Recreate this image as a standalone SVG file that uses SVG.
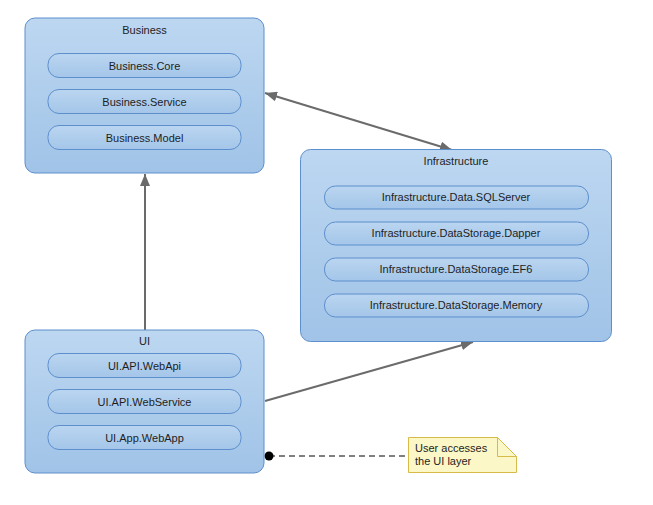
<svg xmlns="http://www.w3.org/2000/svg" width="653" height="505" viewBox="0 0 653 505">
<defs>
<linearGradient id="gBox" x1="0" y1="0" x2="0" y2="1">
<stop offset="0" stop-color="#bdd7f1"/>
<stop offset="1" stop-color="#a0c3e7"/>
</linearGradient>
<linearGradient id="gPill" x1="0" y1="0" x2="0" y2="1">
<stop offset="0" stop-color="#bad5f0"/>
<stop offset="1" stop-color="#a4c6e9"/>
</linearGradient>
<marker id="arr" viewBox="0 0 12 10" refX="12" refY="5" markerWidth="12" markerHeight="10" markerUnits="userSpaceOnUse" orient="auto-start-reverse">
<path d="M0,0 L12,5 L0,10 Z" fill="#6b6b6b"/>
</marker>
</defs>
<style>
.box{fill:url(#gBox);stroke:#5c8fcc;stroke-width:1}
.pill{fill:url(#gPill);stroke:#5c8fcc;stroke-width:1}
text{font-family:"Liberation Sans",Arial,sans-serif;font-size:11px;fill:#1e1e1e;text-anchor:middle}
.conn{stroke:#6b6b6b;stroke-width:2;fill:none}
</style>
<rect width="653" height="505" fill="#ffffff"/>
<g id="connectors">
<line class="conn" x1="145" y1="330" x2="145" y2="174" marker-end="url(#arr)"/>
<line class="conn" x1="265" y1="93" x2="452" y2="150" marker-start="url(#arr)" marker-end="url(#arr)"/>
<line class="conn" x1="265" y1="401" x2="473" y2="342" marker-end="url(#arr)"/>
<line x1="269" y1="456" x2="408" y2="456" stroke="#000" stroke-width="1" stroke-dasharray="6,4"/>
<circle cx="269" cy="456" r="4.5" fill="#000"/>
</g>
<g id="business">
<rect class="box" x="25" y="18" width="239" height="155" rx="10"/>
<text x="144.5" y="34">Business</text>
<g id="business-core"><rect class="pill" x="48" y="53.5" width="193" height="24" rx="11"/><text x="144.5" y="69.5">Business.Core</text></g>
<g id="business-service"><rect class="pill" x="48" y="89.5" width="193" height="24" rx="11"/><text x="144.5" y="105.5">Business.Service</text></g>
<g id="business-model"><rect class="pill" x="48" y="125.5" width="193" height="24" rx="11"/><text x="144.5" y="141.5">Business.Model</text></g>
</g>
<g id="infrastructure">
<rect class="box" x="300.5" y="149.5" width="311" height="192" rx="10"/>
<text x="456" y="165">Infrastructure</text>
<g id="infra-sqlserver"><rect class="pill" x="324.5" y="186" width="264" height="23" rx="11"/><text x="456" y="201">Infrastructure.Data.SQLServer</text></g>
<g id="infra-dapper"><rect class="pill" x="324.5" y="222" width="264" height="23" rx="11"/><text x="456" y="237">Infrastructure.DataStorage.Dapper</text></g>
<g id="infra-ef6"><rect class="pill" x="324.5" y="258" width="264" height="23" rx="11"/><text x="456" y="273">Infrastructure.DataStorage.EF6</text></g>
<g id="infra-memory"><rect class="pill" x="324.5" y="294" width="264" height="23" rx="11"/><text x="456" y="309">Infrastructure.DataStorage.Memory</text></g>
</g>
<g id="ui">
<rect class="box" x="25" y="330" width="239" height="143" rx="10"/>
<text x="144.5" y="345">UI</text>
<g id="ui-webapi"><rect class="pill" x="48" y="353.5" width="193" height="24" rx="11"/><text x="144.5" y="369.5">UI.API.WebApi</text></g>
<g id="ui-webservice"><rect class="pill" x="48" y="389.5" width="193" height="24" rx="11"/><text x="144.5" y="405.5">UI.API.WebService</text></g>
<g id="ui-webapp"><rect class="pill" x="48" y="425.5" width="193" height="24" rx="11"/><text x="144.5" y="441.5">UI.App.WebApp</text></g>
</g>
<g id="note">
<path d="M408.5,437.5 H497.5 L516.5,456.5 V472.5 H408.5 Z" fill="#fcf7c6" stroke="#d6bb48" stroke-width="1"/>
<path d="M497.5,437.5 V456.5 H516.5" fill="none" stroke="#d6bb48" stroke-width="1"/>
<text x="415" y="452" style="text-anchor:start">User accesses</text>
<text x="415" y="465" style="text-anchor:start">the UI layer</text>
</g>
</svg>
